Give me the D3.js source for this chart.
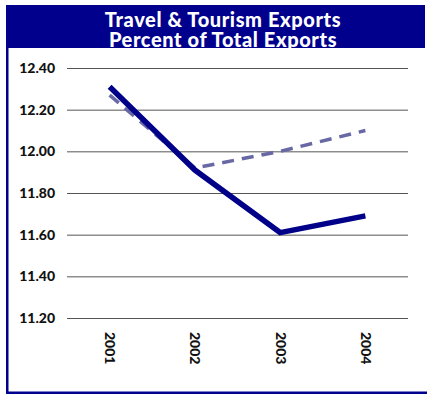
<!DOCTYPE html>
<html>
<head>
<meta charset="utf-8">
<script src="https://cdn.jsdelivr.net/npm/d3@7/dist/d3.min.js"></script>
<style>
  html, body { margin: 0; padding: 0; background: #fff; }
  svg { display: block; }
  text { font-family: Lato, "Open Sans", sans-serif; font-weight: 900; }
</style>
</head>
<body>
<svg id="chart" width="427" height="394"></svg>
<script>
// Travel & Tourism exports as a share of total exports
const years = ["2001", "2002", "2003", "2004"];
const actual = [12.31, 11.91, 11.61, 11.69];
const trend = [12.27, 11.92, 12.00, 12.10];
const yTicks = [11.20, 11.40, 11.60, 11.80, 12.00, 12.20, 12.40];
const titleLines = ["Travel & Tourism Exports", "Percent of Total Exports"];

const navy = "#00008c";
const W = 427, H = 394;
const svg = d3.select("#chart");

// frame: title banner, left rule and bottom rule
svg.append("rect").attr("x", 6).attr("y", 5).attr("width", 419).attr("height", 43).attr("fill", navy);

const title = svg.append("text")
  .attr("text-anchor", "middle")
  .attr("fill", "#fff")
  .style("font-size", "20px")
  .style("letter-spacing", "0.6px");
titleLines.forEach((t, i) => {
  title.append("tspan").attr("x", 223).attr("y", 26.5 + i * 20).text(t);
});

// white panel that sits under the banner
svg.append("rect").attr("x", 8.5).attr("y", 48).attr("width", W - 8.5).attr("height", 343.5).attr("fill", "#fff");
svg.append("rect").attr("x", 6).attr("y", 5).attr("width", 2.5).attr("height", H - 5).attr("fill", navy);
svg.append("rect").attr("x", 6).attr("y", 391.5).attr("width", W - 6).attr("height", 2.5).attr("fill", navy);

const plot = { left: 67, right: 408, top: 68, bottom: 318 };

const x = d3.scalePoint().domain(years).range([plot.left, plot.right]).padding(0.5);
const y = d3.scaleLinear().domain([11.2, 12.4]).range([plot.bottom, plot.top]);

// horizontal gridlines and value labels
const yAxis = d3.axisLeft(y)
  .tickValues(yTicks)
  .tickFormat(d3.format(".2f"))
  .tickSize(-(plot.right - plot.left))
  .tickPadding(12);

const gy = svg.append("g").attr("transform", `translate(${plot.left},0)`).call(yAxis);
gy.select(".domain").remove();
gy.selectAll(".tick line").attr("stroke", "#555").attr("stroke-width", 1);
gy.selectAll(".tick text").attr("fill", "#111").style("font-size", "14px");

// category labels, rotated to read downward
const gx = svg.append("g").attr("transform", `translate(0,${plot.bottom})`)
  .call(d3.axisBottom(x).tickSize(0));
gx.select(".domain").remove();
gx.selectAll(".tick text")
  .attr("fill", "#111")
  .style("font-size", "14px")
  .attr("text-anchor", "start")
  .attr("dy", "0.35em")
  .attr("y", 0)
  .attr("x", 0)
  .attr("transform", "rotate(90) translate(14,0)");

const line = d3.line().x((d, i) => x(years[i])).y(d => y(d));

svg.append("path")
  .datum(trend)
  .attr("d", line)
  .attr("fill", "none")
  .attr("stroke", "#6868a4")
  .attr("stroke-width", 3.5)
  .attr("stroke-dasharray", "12,8");

svg.append("path")
  .datum(actual)
  .attr("d", line)
  .attr("fill", "none")
  .attr("stroke", "#000088")
  .attr("stroke-width", 5.5);
</script>
</body>
</html>
